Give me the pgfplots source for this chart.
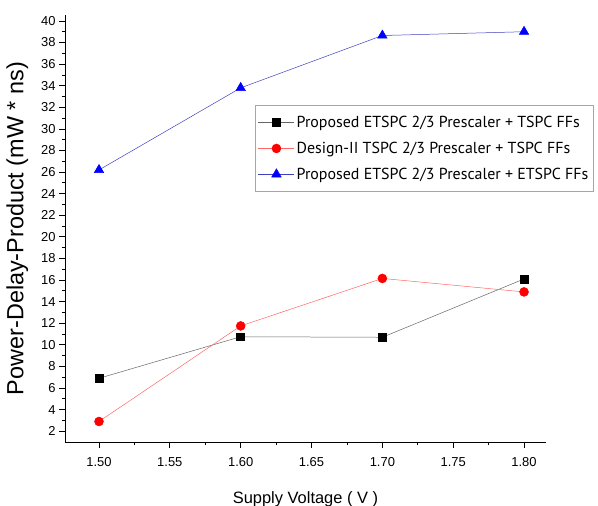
\documentclass[border=0pt]{standalone}
\usepackage{pgfplots}
\pgfplotsset{compat=1.18}
\usepackage{fontspec}
\setmainfont{Liberation Sans}
\newfontfamily\legendfont{PT Sans}

\begin{document}
\begin{tikzpicture}
\begin{axis}[
    scale only axis,
    width=481bp, height=427bp,
    xmin=1.476, xmax=1.8155,
    ymin=1, ymax=40.55,
    axis x line=bottom, axis y line=left,
    axis line style={-, line width=1pt},
    xtick={1.50,1.55,...,1.80},
    minor x tick num=1,
    ytick={2,4,...,40},
    minor y tick num=1,
    tick align=outside,
    major tick length=6pt, minor tick length=3.5pt,
    tick style={black, line width=0.8pt},
    x tick label style={/pgf/number format/fixed,
        /pgf/number format/fixed zerofill,
        /pgf/number format/precision=2, yshift=-6pt},
    /pgf/number format/assume math mode=true,
    ticklabel style={font=\fontsize{13}{15}\selectfont},
    xlabel={Supply Voltage ( V )},
    ylabel={Power-Delay-Product (mW * ns)},
    xlabel style={font=\fontsize{16.5}{18}\selectfont, yshift=-18pt},
    ylabel style={font=\fontsize{23.5}{26}\selectfont, yshift=6pt},
    legend style={at={(0.395,0.789)}, anchor=north west, draw=gray!70,
        font=\legendfont\fontsize{16}{18}\selectfont,
        row sep=9pt, inner xsep=3pt, inner ysep=9pt},
    legend cell align=left,
    legend image code/.code={
        \draw[mark repeat=2, mark phase=2]
        plot coordinates {(0bp,0bp) (18bp,0bp) (36bp,0bp)};},
]
\addplot[gray!80!black, line width=0.5pt, mark=square*, mark size=4pt,
    mark options={fill=black, draw=black}]
    coordinates {(1.50,6.9) (1.60,10.75) (1.70,10.7) (1.80,16.1)};
\addplot[red!60, line width=0.5pt, mark=*, mark size=4.5pt,
    mark options={fill=red, draw=red}]
    coordinates {(1.50,2.9) (1.60,11.75) (1.70,16.15) (1.80,14.9)};
\addplot[blue!50!gray, line width=0.5pt, mark=triangle*, mark size=5.5pt,
    mark options={fill=blue, draw=blue}]
    coordinates {(1.50,26.2) (1.60,33.8) (1.70,38.65) (1.80,39.0)};
\legend{Proposed ETSPC 2/3 Prescaler + TSPC FFs,
        Design-II TSPC 2/3 Prescaler + TSPC FFs,
        Proposed ETSPC 2/3 Prescaler + ETSPC FFs}
\end{axis}
\path (current axis.south west) ++(-65bp,-64bp) coordinate (bbsw);
\path (current axis.north east) ++(52bp,15bp) coordinate (bbne);
\pgfresetboundingbox
\useasboundingbox (bbsw) rectangle (bbne);
\end{tikzpicture}
\end{document}
